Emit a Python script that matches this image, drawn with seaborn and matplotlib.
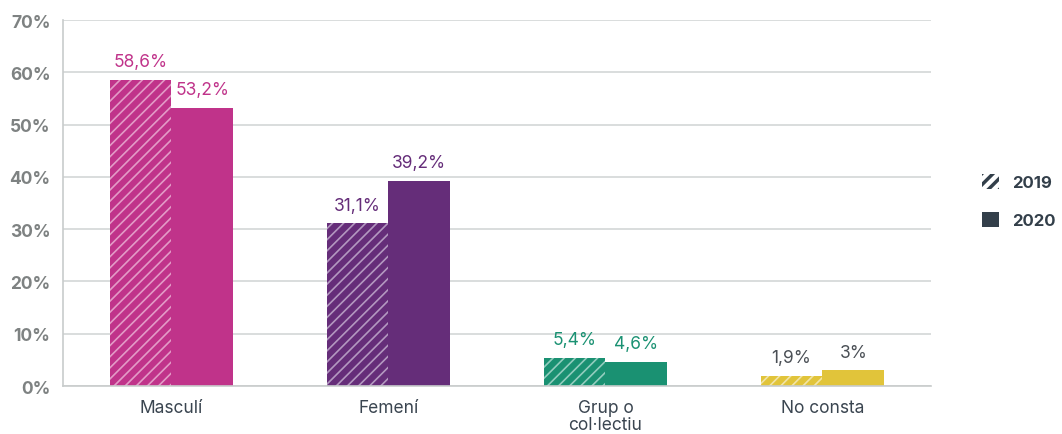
import numpy as np
import pandas as pd
import matplotlib
matplotlib.use("Agg")
import matplotlib.pyplot as plt
from matplotlib.patches import Patch
import seaborn as sns

categories = ["Masculí", "Femení", "Grup o\ncol·lectiu", "No consta"]
years = ["2019", "2020"]
values_2019 = [58.6, 31.1, 5.4, 1.9]
values_2020 = [53.2, 39.2, 4.6, 3.0]
labels_2019 = ["58,6%", "31,1%", "5,4%", "1,9%"]
labels_2020 = ["53,2%", "39,2%", "4,6%", "3%"]

bar_colors = ["#C0338A", "#652D79", "#1A9172", "#E1C43A"]
hatch_colors = ["#E39BC7", "#B398C0", "#93CDBE", "#F2E4A6"]
label_colors = ["#C0338A", "#652D79", "#1A9172", "#4A4F55"]


def build_frame():
    rows = []
    for cat, v19, v20 in zip(categories, values_2019, values_2020):
        rows.append({"cat": cat, "year": "2019", "value": v19})
        rows.append({"cat": cat, "year": "2020", "value": v20})
    return pd.DataFrame(rows)


def main():
    sns.set_style("white")
    plt.rcParams["font.family"] = ["Inter", "DejaVu Sans"]
    plt.rcParams["hatch.linewidth"] = 1.2

    df = build_frame()
    fig = plt.figure(figsize=(10.62, 4.35), dpi=100)
    ax = fig.add_axes([0.0593, 0.1103, 0.8173, 0.8414])

    sns.barplot(data=df, x="cat", y="value", hue="year", order=categories,
                hue_order=years, width=0.57, ax=ax, legend=False,
                palette=["#333f4a", "#333f4a"], errorbar=None, saturation=1)

    # bars come out grouped by hue: first all 2019, then all 2020
    bars = ax.patches
    n = len(categories)
    for i in range(n):
        b19 = bars[i]
        b20 = bars[n + i]
        b19.set_facecolor(bar_colors[i])
        b19.set_edgecolor(hatch_colors[i])
        b19.set_hatch("///")
        b19.set_linewidth(0)
        b20.set_facecolor(bar_colors[i])
        b20.set_edgecolor(bar_colors[i])
        b20.set_linewidth(0)
        for b, lab in ((b19, labels_2019[i]), (b20, labels_2020[i])):
            ax.annotate(lab, (b.get_x() + b.get_width() / 2, b.get_height()),
                        xytext=(0, 7), textcoords="offset points",
                        ha="center", va="bottom", fontsize=12.5,
                        color=label_colors[i])

    ax.set_ylim(0, 70)
    ax.set_xlim(-0.5, n - 0.5)
    ax.set_yticks(np.arange(0, 71, 10))
    ax.set_yticklabels([f"{t}%" for t in range(0, 71, 10)],
                       fontsize=12.5, fontweight="bold", color="#7E8282")
    ax.yaxis.grid(True, color="#D3D7D7", linewidth=1.2)
    ax.set_axisbelow(True)
    ax.set_xlabel("")
    ax.set_ylabel("")
    ax.tick_params(axis="x", length=0, pad=9, labelsize=12.5,
                   labelcolor="#3A4550")
    ax.tick_params(axis="y", length=6, width=1, color="#C8CCCC", pad=3)
    for t in ax.get_xticklabels():
        t.set_linespacing(1.05)

    # minor ticks on the category boundaries
    ax.set_xticks(np.arange(-0.5, n, 1.0), minor=True)
    ax.tick_params(axis="x", which="minor", length=6, width=1, color="#C8CCCC")

    for side in ("top", "right"):
        ax.spines[side].set_visible(False)
    for side in ("left", "bottom"):
        ax.spines[side].set_color("#C8CCCC")
        ax.spines[side].set_linewidth(1.2)

    plt.rcParams["hatch.linewidth"] = 2.5
    handles = [
        Patch(facecolor="white", edgecolor="#333f4a", hatch="///", linewidth=0, label="2019"),
        Patch(facecolor="#333f4a", edgecolor="#333f4a", linewidth=0, label="2020"),
    ]
    leg = fig.legend(handles=handles, loc="center left", bbox_to_anchor=(0.911, 0.535),
                     frameon=False, handlelength=1.0, handleheight=1.0,
                     labelspacing=1.3, handletextpad=0.8, prop={"weight": "bold", "size": 12})
    for t in leg.get_texts():
        t.set_color("#333f4a")

    fig.savefig("out.png", dpi=100)


if __name__ == "__main__":
    main()
